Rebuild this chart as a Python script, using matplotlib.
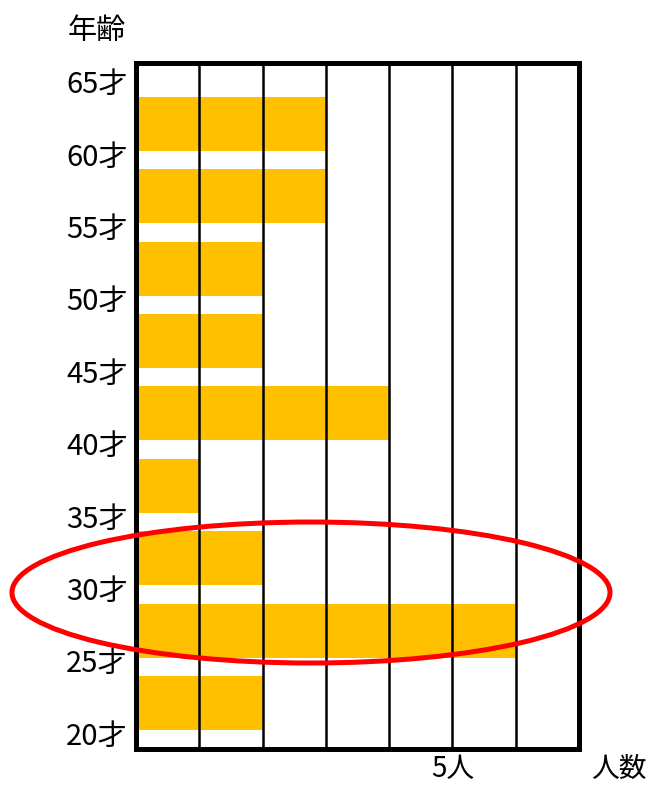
import matplotlib
matplotlib.use("Agg")
import matplotlib.pyplot as plt
from matplotlib.patches import Ellipse
import matplotlib.transforms as mtransforms

plt.rcParams['font.family'] = ['Noto Sans CJK JP', 'DejaVu Sans']

# Data
age_bins = [20, 25, 30, 35, 40, 45, 50, 55, 60]
counts = [2, 6, 2, 1, 4, 2, 2, 3, 3]
tick_ages = [20, 25, 30, 35, 40, 45, 50, 55, 60, 65]
tick_labels = [f"{a}才" for a in tick_ages]
x_label_value = 5
x_label_text = "5人"
x_axis_title = "人数"
y_axis_title = "年齢"
highlight_center = (2.765, 30.13)
highlight_size = (9.45, 9.74)

bar_color = "#FFC000"
fs = 21

fig = plt.figure(figsize=(6.52, 7.86), dpi=100)
ax = fig.add_axes([136/652, 1 - 749/786, (579-136)/652, (749-63)/786])

ax.barh([a + 2.5 for a in age_bins], counts, height=3.73, color=bar_color,
        zorder=1, linewidth=0)

for x in range(1, 7):
    ax.axvline(x, color="black", linewidth=1.8, zorder=2)

ax.set_xlim(0, 7)
ax.set_ylim(19.32, 66.71)

for s in ax.spines.values():
    s.set_linewidth(3.6)
    s.set_color("black")
    s.set_zorder(5)

ax.set_xticks([])
ax.set_yticks(tick_ages)
ax.set_yticklabels(tick_labels, fontsize=fs)
ax.tick_params(axis='y', length=0, pad=6)
offset = mtransforms.ScaledTranslation(0, 6/100, fig.dpi_scale_trans)
for lbl in ax.get_yticklabels():
    lbl.set_transform(lbl.get_transform() + offset)

# x labels
tr = mtransforms.blended_transform_factory(ax.transData, fig.transFigure)
ax.text(x_label_value, 1 - 769/786, x_label_text, transform=tr, ha='center',
        va='center', fontsize=20)
fig.text(619/652, 1 - 769/786, x_axis_title, ha='center', va='center', fontsize=20)
fig.text(97/652, 1 - 31/786, y_axis_title, ha='center', va='center', fontsize=fs)

ell = Ellipse(highlight_center, highlight_size[0], highlight_size[1],
              fill=False, edgecolor="#FF0000", linewidth=3.6, clip_on=False, zorder=6)
ax.add_patch(ell)

fig.savefig("out.png", dpi=100)
